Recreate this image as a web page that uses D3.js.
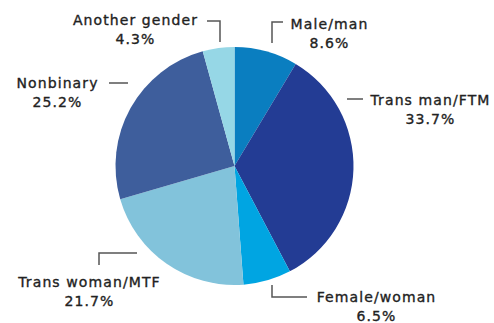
<!DOCTYPE html>
<html>
<head>
<meta charset="utf-8">
<script src="https://cdn.jsdelivr.net/npm/d3@7"></script>
<style>
  html, body { margin: 0; padding: 0; background: #fff; }
  svg { display: block; }
  text { font-family: "DejaVu Sans", sans-serif; font-size: 14px; fill: #222; stroke: #222; stroke-width: 0.35px; letter-spacing: 1.1px; }
</style>
</head>
<body>
<svg id="chart" width="494" height="323"></svg>
<script>
// Gender identity shares, clockwise from 12 o'clock
const categories = ["Male/man", "Trans man/FTM", "Female/woman", "Trans woman/MTF", "Nonbinary", "Another gender"];
const shares = [8.6, 33.7, 6.5, 21.7, 25.2, 4.3];
const sliceColors = ["#0a7ec0", "#233c94", "#00a5e2", "#82c3db", "#3e5e9c", "#96d7e6"];

// Label placement: text centre and leader-line path for each category
const labelLayout = {
  "Male/man":        { x: 329, y: 24,  leader: [[272, 43], [272, 22], [283, 22]] },
  "Trans man/FTM":   { x: 430, y: 100, leader: [[347, 99], [363, 99]] },
  "Female/woman":    { x: 376, y: 297, leader: [[272, 285], [272, 297], [307, 297]] },
  "Trans woman/MTF": { x: 89,  y: 282, leader: [[99, 265], [99, 253], [137, 253]] },
  "Nonbinary":       { x: 57,  y: 83,  leader: [[109, 83], [128, 83]] },
  "Another gender":  { x: 135, y: 20,  leader: [[207, 21], [220, 21], [220, 42]] }
};

const cx = 234.5, cy = 166, radius = 119;
const data = categories.map((c, i) => ({ category: c, value: shares[i], color: sliceColors[i] }));

const svg = d3.select("#chart");
const pie = d3.pie().value(d => d.value).sort(null);
const arc = d3.arc().innerRadius(0).outerRadius(radius);

const g = svg.append("g").attr("transform", `translate(${cx},${cy})`);
g.selectAll("path.slice")
  .data(pie(data))
  .join("path")
  .attr("class", "slice")
  .attr("d", arc)
  .attr("fill", d => d.data.color);

const line = d3.line();
svg.selectAll("path.leader")
  .data(data)
  .join("path")
  .attr("class", "leader")
  .attr("d", d => line(labelLayout[d.category].leader))
  .attr("fill", "none")
  .attr("stroke", "#555")
  .attr("stroke-width", 1.5);

const fmt = d3.format(".1f");
const labels = svg.selectAll("text.label")
  .data(data)
  .join("text")
  .attr("class", "label")
  .attr("text-anchor", "middle");
labels.append("tspan")
  .attr("x", d => labelLayout[d.category].x + 0.5)
  .attr("y", d => labelLayout[d.category].y + 5)
  .text(d => d.category);
labels.append("tspan")
  .attr("x", d => labelLayout[d.category].x + 0.5)
  .attr("y", d => labelLayout[d.category].y + 24)
  .text(d => fmt(d.value) + "%");
</script>
</body>
</html>
